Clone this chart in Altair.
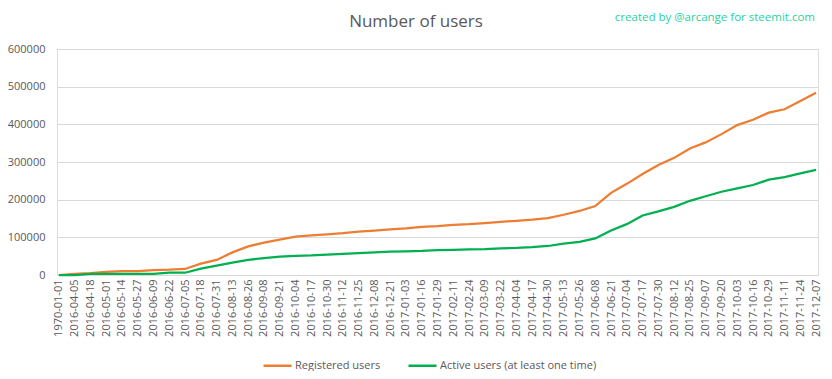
import altair as alt
import pandas as pd

dates = ["1970-01-01", "2016-04-05", "2016-04-18", "2016-05-01", "2016-05-14", "2016-05-27",
         "2016-06-09", "2016-06-22", "2016-07-05", "2016-07-18", "2016-07-31", "2016-08-13",
         "2016-08-26", "2016-09-08", "2016-09-21", "2016-10-04", "2016-10-17", "2016-10-30",
         "2016-11-12", "2016-11-25", "2016-12-08", "2016-12-21", "2017-01-03", "2017-01-16",
         "2017-01-29", "2017-02-11", "2017-02-24", "2017-03-09", "2017-03-22", "2017-04-04",
         "2017-04-17", "2017-04-30", "2017-05-13", "2017-05-26", "2017-06-08", "2017-06-21",
         "2017-07-04", "2017-07-17", "2017-07-30", "2017-08-12", "2017-08-25", "2017-09-07",
         "2017-09-20", "2017-10-03", "2017-10-16", "2017-10-29", "2017-11-11", "2017-11-24",
         "2017-12-07"]

registered = [0, 3000, 5000, 8000, 10000, 10000, 13000, 14000, 16000, 30000, 40000, 60000,
              76000, 86000, 94000, 102000, 105000, 108000, 111000, 115000, 118000, 121000,
              124000, 128000, 130000, 133000, 135000, 138000, 141000, 144000, 147000, 151000,
              160000, 170000, 183000, 218000, 242000, 268000, 292000, 311000, 336000, 352000,
              374000, 398000, 412000, 431000, 440000, 462000, 484000]

active = [0, 0, 3000, 3000, 3000, 3000, 3000, 6000, 6000, 17000, 25000, 33000,
          40000, 45000, 49000, 51000, 52000, 54000, 56000, 58000, 60000, 62000,
          63000, 64000, 66000, 67000, 68000, 69000, 71000, 72000, 74000, 77000,
          83000, 88000, 97000, 118000, 135000, 158000, 169000, 181000, 197000, 209000,
          221000, 230000, 239000, 253000, 260000, 270000, 279000]

series_names = ["Registered users", "Active users (at least one time)"]
series_colors = ["#ED7D31", "#00B050"]
y_ticks = [0, 100000, 200000, 300000, 400000, 500000, 600000]
title_text = "Number of users"
credit_text = "created by @arcange for steemit.com"

rows = []
for i, d in enumerate(dates):
    rows.append({"date": d, "series": series_names[0], "value": registered[i], "order": 0})
    rows.append({"date": d, "series": series_names[1], "value": active[i], "order": 1})
df = pd.DataFrame(rows)

FONT = "Open Sans"
GREY = "#595959"

lines = alt.Chart(df).mark_line(strokeWidth=2.25).encode(
    x=alt.X("date:N", sort=dates, title=None,
            scale=alt.Scale(padding=0.12),
            axis=alt.Axis(labelAngle=-90, labelFontSize=11, labelColor=GREY, labelFont=FONT,
                          ticks=False, domain=False, grid=False, labelPadding=4,
                          labelOverlap=False)),
    y=alt.Y("value:Q", title=None,
            scale=alt.Scale(domain=[0, 600000], nice=False),
            axis=alt.Axis(values=y_ticks, format="d", labelFontSize=11, labelColor=GREY,
                          labelFont=FONT, ticks=False, domain=False, grid=True,
                          gridColor="#D9D9D9", gridWidth=1, labelPadding=12)),
    color=alt.Color("series:N", sort=series_names,
                    scale=alt.Scale(domain=series_names, range=series_colors),
                    legend=alt.Legend(title=None, orient="none", direction="horizontal",
                                      legendX=205, legendY=301, symbolType="stroke",
                                      symbolSize=784, symbolStrokeWidth=2.5,
                                      labelFontSize=11, labelColor=GREY, labelFont=FONT,
                                      columnPadding=22, labelOffset=2)),
    order="order:Q",
    detail="series:N",
)

credit = alt.Chart(pd.DataFrame({"t": [credit_text]})).mark_text(
    align="right", baseline="alphabetic", fontSize=11.5, font=FONT, color="#1FD3A0"
).encode(text="t:N", x=alt.value(758), y=alt.value(-28))

title = alt.Chart(pd.DataFrame({"t": [title_text]})).mark_text(
    align="center", baseline="alphabetic", fontSize=17, font=FONT, color=GREY
).encode(text="t:N", x=alt.value(359), y=alt.value(-22))

chart = alt.layer(lines, credit, title).properties(
    width=761, height=226,
    padding={"left": 49, "top": 41, "right": 6, "bottom": 96},
    autosize=alt.AutoSizeParams(type="none"),
).configure_view(stroke=None).configure(background="white")

chart.save("out.html", embed_options={"renderer": "svg", "actions": False})
